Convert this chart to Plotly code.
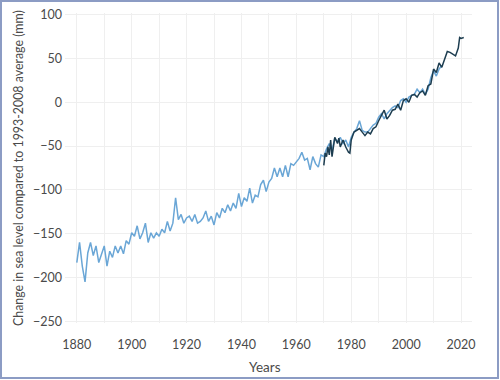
import plotly.graph_objects as go

# Light blue series (long reconstruction)
light_years = list(range(1880, 2014))
light_values = [
    -183, -160, -187, -205, -172, -160, -175, -164, -183, -172,
    -164, -187, -170, -177, -164, -172, -164, -173, -158, -162,
    -149, -153, -141, -156, -149, -138, -160, -149, -155, -149,
    -153, -145, -149, -136, -147, -138, -109, -134, -128, -138,
    -132, -130, -136, -128, -138, -136, -132, -124, -136, -130,
    -140, -126, -132, -121, -126, -117, -124, -115, -121, -104,
    -119, -109, -113, -98, -115, -106, -108, -94, -89, -102,
    -91, -87, -75, -85, -75, -85, -72, -85, -70, -72,
    -68, -64, -57, -66, -64, -77, -62, -70, -74, -60,
    -62, -53, -47, -55, -41, -45, -40, -47, -43, -51,
    -40, -34, -30, -21, -32, -34, -34, -30, -26, -24,
    -17, -13, -19, -13, -9, -6, -4, -6, 2, 4,
    0, 6, 8, 9, 15, 11, 15, 9, 15, 28,
    36, 30, 38, 42,
]

# Dark series (recent record)
dark_years = [
    1970, 1970.5, 1971, 1971.5, 1972, 1972.5, 1973, 1973.5, 1974, 1975,
    1975.5, 1976, 1977, 1978, 1979, 1979.5, 1980, 1981, 1982, 1983,
    1984, 1985, 1986, 1987, 1988, 1989, 1990, 1991, 1992, 1993,
    1994, 1995, 1996, 1997, 1998, 1999, 2000, 2001, 2002, 2003,
    2004, 2005, 2006, 2007, 2008, 2009, 2010, 2011, 2012, 2013,
    2014, 2015, 2016, 2017, 2018, 2019, 2019.5, 2020, 2021,
]
dark_values = [
    -72, -58, -62, -51, -60, -43, -62, -47, -40, -47,
    -41, -51, -43, -51, -57, -58, -43, -34, -32, -30,
    -34, -38, -34, -36, -30, -28, -21, -15, -9, -19,
    -15, -9, -8, -2, -9, 2, 4, 0, 8, 9,
    6, 11, 13, 8, 19, 21, 38, 34, 45, 40,
    49, 58, 57, 55, 53, 62, 74, 73, 74,
]

x_tick_vals = [1880, 1900, 1920, 1940, 1960, 1980, 2000, 2020]
y_tick_vals = [100, 50, 0, -50, -100, -150, -200, -250]

FONT = "Lato"
TXT = "#4a4a4a"
L, R, T, B = 65, 472, 13, 323
PW, PH = R - L, B - T

def px(p):
    return (p - L) / PW

def py(q):
    return (B - q) / PH

fig = go.Figure()
fig.add_trace(go.Scatter(x=light_years, y=light_values, mode="lines",
                         line=dict(color="#6aa6d6", width=1.5), showlegend=False))
fig.add_trace(go.Scatter(x=dark_years, y=dark_values, mode="lines",
                         line=dict(color="#1d3d50", width=1.5), showlegend=False))

fig.update_layout(
    width=500, height=380,
    margin=dict(l=L, r=500 - R, t=T, b=380 - B, autoexpand=False),
    paper_bgcolor="white", plot_bgcolor="white",
    font=dict(family=FONT, size=12, color=TXT),
    xaxis=dict(range=[1875.7, 2024], tickvals=x_tick_vals, automargin=False,
               showgrid=True, gridcolor="#efefef", gridwidth=1,
               showline=False, zeroline=False,
               ticks="", ticklabelstandoff=12, tickfont=dict(size=12.5, color=TXT),
               minor=dict(showgrid=True, tickvals=list(range(1890, 2030, 20)),
                          gridcolor="#efefef")),
    yaxis=dict(range=[-252, 102], tickvals=y_tick_vals, automargin=False,
               showgrid=True, gridcolor="#efefef", gridwidth=1,
               zeroline=False, showline=False, ticks="", ticklabelstandoff=2,
               tickfont=dict(size=12.5, color=TXT)),
    annotations=[
        dict(text="Years", xref="paper", yref="paper", x=px(265), y=py(367),
             xanchor="center", yanchor="middle", showarrow=False,
             font=dict(size=13.5, color=TXT)),
        dict(text="Change in sea level compared to 1993-2008 average (mm)",
             xref="paper", yref="paper", x=px(18), y=py(168), textangle=-90,
             xanchor="center", yanchor="middle", showarrow=False,
             font=dict(size=12.4, color=TXT)),
    ],
    shapes=[dict(type="rect", xref="paper", yref="paper",
                 x0=px(1), x1=px(498), y0=py(378), y1=py(1),
                 line=dict(color="#8c9cc4", width=2), layer="above")],
)

fig.write_html("out.html", config={"displayModeBar": False},
               post_script="document.body.style.margin='0';document.body.style.overflow='hidden';")
